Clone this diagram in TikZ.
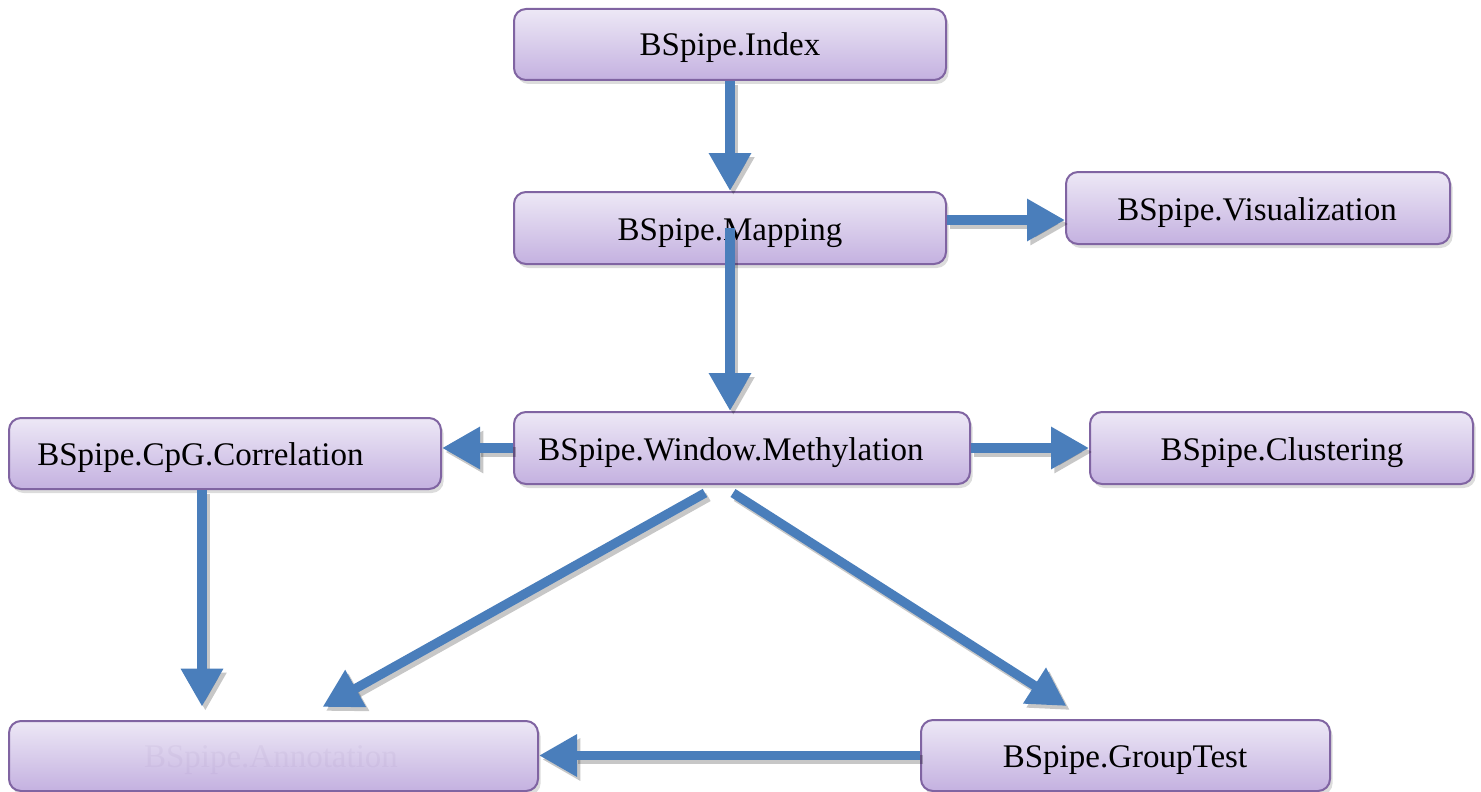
\documentclass[tikz,border=0pt]{standalone}
\usepackage{fontspec}
\setmainfont{Liberation Serif}
\usetikzlibrary{arrows.meta,shadows,calc}
\definecolor{arrowblue}{HTML}{4A7EBB}
\definecolor{boxtop}{HTML}{EDE8F6}
\definecolor{boxbot}{HTML}{C4B1E0}
\definecolor{boxline}{HTML}{8064A2}
\begin{document}
\begin{tikzpicture}[x=0.75pt,y=-0.75pt,
  box/.style={draw=boxline, line width=1.5pt, rounded corners=9pt,
    top color=boxtop, bottom color=boxbot, inner sep=0pt,
    drop shadow={shadow xshift=2pt, shadow yshift=-3pt, opacity=0.28}},
  lbl/.style={font=\fontsize{24.75pt}{28pt}\selectfont, inner sep=0pt, anchor=base},
  flow/.style={arrowblue, line width=7pt, -{Triangle[length=28.5pt,width=30pt]}},
  flowshadow/.style={black, opacity=0.22, line width=7pt, -{Triangle[length=28.5pt,width=30pt]}}]
\useasboundingbox (0,0) rectangle (1481,792);

% boxes
\node[box, minimum width=432*0.75pt, minimum height=71*0.75pt] (idx) at (730,44.5) {};
\node[box, minimum width=432*0.75pt, minimum height=72*0.75pt] (map) at (730,228) {};
\node[box, minimum width=384*0.75pt, minimum height=72*0.75pt] (vis) at (1258,208) {};
\node[box, minimum width=432*0.75pt, minimum height=71*0.75pt] (cpg) at (225,453.5) {};
\node[box, minimum width=456*0.75pt, minimum height=72*0.75pt] (win) at (742,448) {};
\node[box, minimum width=383*0.75pt, minimum height=72*0.75pt] (clu) at (1281.5,448) {};
\node[box, minimum width=529*0.75pt, minimum height=70*0.75pt] (ann) at (273.5,756) {};
\node[box, minimum width=409*0.75pt, minimum height=71*0.75pt] (gt) at (1125.5,755.5) {};

% labels
\node[lbl] (idxt) at (730,56) {BSpipe.Index};
\node[lbl] (mapt) at (730,240) {BSpipe.Mapping};
\node[lbl] (vist) at (1257,220) {BSpipe.Visualization};
\node[lbl, anchor=base west] (cpgt) at (37,465) {BSpipe.CpG.Correlation};
\node[lbl] (wint) at (731,460) {BSpipe.Window.Methylation};
\node[lbl] (clut) at (1282,460) {BSpipe.Clustering};
\node[lbl, text=boxline, text opacity=0.07] (annt) at (271,767) {BSpipe.Annotation};
\node[lbl] (gtt) at (1125,767) {BSpipe.GroupTest};

% helper coordinates
\coordinate (mv) at ($(map.east)+(0,-8)$);
\coordinate (cs) at ($(cpg.south)+(-23,0)$);
\coordinate (wl) at ($(win.south)+(-37,8)$);
\coordinate (wr) at ($(win.south)+(-9,8)$);
\coordinate (al) at ($(ann.north)+(49,-13)$);
\coordinate (gl) at ($(gt.north)+(-59,-13)$);

% connector shadows
\begin{scope}[transform canvas={xshift=2.5pt,yshift=-3pt}]
\draw[flowshadow] (idx.south) -- (map.north);
\draw[flowshadow] (map.center) -- (map.center |- win.north);
\draw[flowshadow] (mv) -- (mv -| vis.west);
\draw[flowshadow] (win.west) -- (win.west -| cpg.east);
\draw[flowshadow] (win.east) -- (win.east -| clu.west);
\draw[flowshadow, shorten >=10pt] (cs) -- (cs |- ann.north);
\draw[flowshadow] (wl) -- (al);
\draw[flowshadow] (wr) -- (gl);
\draw[flowshadow] (gt.west) -- (gt.west -| ann.east);
\end{scope}

% connectors
\draw[flow] (idx.south) -- (map.north);
\draw[flow] (map.center) -- (map.center |- win.north);
\draw[flow] (mv) -- (mv -| vis.west);
\draw[flow] (win.west) -- (win.west -| cpg.east);
\draw[flow] (win.east) -- (win.east -| clu.west);
\draw[flow, shorten >=10pt] (cs) -- (cs |- ann.north);
\draw[flow] (wl) -- (al);
\draw[flow] (wr) -- (gl);
\draw[flow] (gt.west) -- (gt.west -| ann.east);
\end{tikzpicture}
\end{document}
